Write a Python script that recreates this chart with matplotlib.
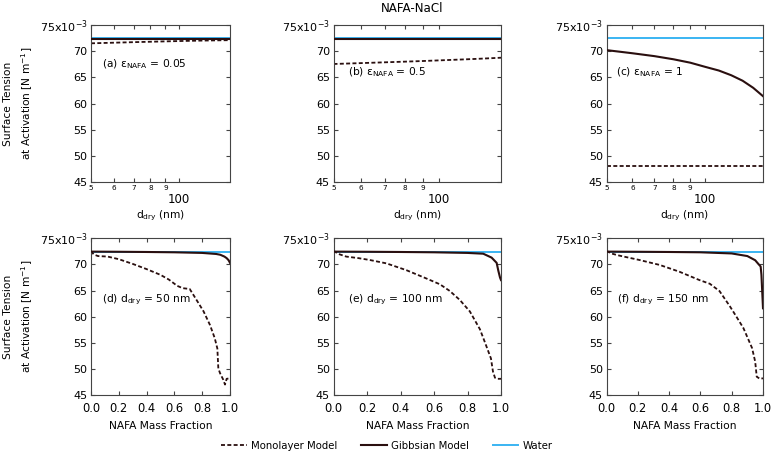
import matplotlib
matplotlib.use("Agg")
import matplotlib.pyplot as plt
from matplotlib.lines import Line2D
from matplotlib.ticker import FixedLocator, FixedFormatter

# ---------------- data (surface tension in 10^-3 N m^-1) ----------------
d_dry = [50, 60, 70, 80, 90, 100, 110, 120, 130, 140, 150]

a_mono = [71.5, 71.62, 71.72, 71.8, 71.87, 71.93, 71.98, 72.02, 72.05, 72.08, 72.1]
a_gibbs = [72.35, 72.35, 72.35, 72.35, 72.35, 72.35, 72.35, 72.35, 72.35, 72.35, 72.35]
b_mono = [67.55, 67.72, 67.87, 68.0, 68.12, 68.24, 68.35, 68.45, 68.55, 68.65, 68.75]
b_gibbs = [72.3, 72.3, 72.3, 72.3, 72.3, 72.3, 72.3, 72.3, 72.3, 72.3, 72.3]
c_mono = [48.05, 48.05, 48.05, 48.05, 48.05, 48.05, 48.05, 48.05, 48.05, 48.05, 48.05]
c_gibbs = [70.2, 69.6, 69.05, 68.45, 67.8, 67.0, 66.3, 65.4, 64.35, 63.0, 61.4]

water_sigma = 72.45

d_mono_x = [0.0, 0.02, 0.05, 0.12, 0.2, 0.3, 0.4, 0.5, 0.56, 0.62, 0.66, 0.71, 0.75,
            0.81, 0.856, 0.89, 0.909, 0.916, 0.928, 0.952, 0.964, 0.976, 1.0]
d_mono_y = [72.55, 71.9, 71.6, 71.5, 71.0, 70.1, 69.1, 68.0, 67.1, 65.9, 65.45, 65.3, 63.6,
            61.0, 58.4, 55.9, 53.9, 50.1, 49.2, 47.9, 47.0, 48.1, 48.2]
d_gibbs_x = [0.0, 0.2, 0.4, 0.6, 0.8, 0.9, 0.93, 0.96, 0.976, 0.99, 1.0]
d_gibbs_y = [72.45, 72.42, 72.38, 72.32, 72.2, 72.0, 71.85, 71.5, 71.2, 70.8, 70.3]

e_mono_x = [0.0, 0.03, 0.076, 0.15, 0.216, 0.316, 0.435, 0.555, 0.635, 0.695, 0.754,
            0.814, 0.874, 0.905, 0.94, 0.952, 0.964, 0.98, 1.0]
e_mono_y = [72.6, 72.0, 71.5, 71.2, 70.85, 70.2, 68.9, 67.3, 66.2, 64.9, 63.2,
            61.0, 57.6, 55.0, 52.0, 49.5, 48.3, 48.1, 48.1]
e_gibbs_x = [0.0, 0.2, 0.4, 0.6, 0.8, 0.894, 0.944, 0.974, 0.984, 0.994, 1.0]
e_gibbs_y = [72.45, 72.42, 72.38, 72.32, 72.2, 72.05, 71.3, 70.3, 68.8, 67.5, 67.0]

f_mono_x = [0.0, 0.03, 0.08, 0.21, 0.34, 0.466, 0.594, 0.66, 0.722, 0.788, 0.83,
            0.875, 0.93, 0.95, 0.96, 0.98, 1.0]
f_mono_y = [72.6, 72.1, 71.7, 70.85, 69.9, 68.6, 67.0, 66.3, 64.9, 62.0, 60.0,
            57.8, 54.0, 51.4, 48.5, 48.1, 48.2]
f_gibbs_x = [0.0, 0.2, 0.4, 0.6, 0.8, 0.9, 0.95, 0.97, 0.985, 0.99, 1.0]
f_gibbs_y = [72.45, 72.42, 72.38, 72.32, 72.1, 71.6, 70.8, 70.1, 69.6, 68.0, 61.6]

y_ticks = [45, 50, 55, 60, 65, 70, 75]
y_ticklabels = ["45", "50", "55", "60", "65", "70", "75x10$^{-3}$"]
logx_major = [100]
logx_major_labels = ["100"]
logx_minor = [50, 60, 70, 80, 90]
logx_minor_labels = ["5", "6", "7", "8", "9"]
frac_ticks = [0.0, 0.2, 0.4, 0.6, 0.8, 1.0]
frac_ticklabels = ["0.0", "0.2", "0.4", "0.6", "0.8", "1.0"]

top_labels = ["(a) ε$_{\\mathrm{NAFA}}$ = 0.05", "(b) ε$_{\\mathrm{NAFA}}$ = 0.5",
              "(c) ε$_{\\mathrm{NAFA}}$ = 1"]
bot_labels = ["(d) d$_{\\mathrm{dry}}$ = 50 nm", "(e) d$_{\\mathrm{dry}}$ = 100 nm",
              "(f) d$_{\\mathrm{dry}}$ = 150 nm"]

# ---------------- style ----------------
W, H = 773, 455
plt.rcParams["font.family"] = ["DejaVu Sans"]
plt.rcParams["mathtext.fontset"] = "dejavusans"
FS = 7.7      # general text
FS_TICK = 8.0
FS_LEG = 7.3
C_LINE = "#2a0f0f"
C_WATER = "#3ab4f2"
C_SPINE = "#444444"

fig = plt.figure(figsize=(W / 100, H / 100), dpi=100)


def px_axes(left, top, right, bottom):
    return fig.add_axes([left / W, 1 - bottom / H, (right - left) / W, (bottom - top) / H])


cols = [(91, 230), (333.5, 501), (606.5, 763)]
top_row = (25, 182)
bot_row = (238.3, 395)


def style_common(ax):
    for s in ax.spines.values():
        s.set_color(C_SPINE)
        s.set_linewidth(0.8)
    ax.set_ylim(45, 75)
    ax.yaxis.set_major_locator(FixedLocator(y_ticks))
    ax.yaxis.set_major_formatter(FixedFormatter(y_ticklabels))
    ax.tick_params(axis="both", which="both", direction="in", top=True, right=True,
                   length=3.2, width=0.8, color=C_SPINE, labelsize=FS_TICK)
    ax.tick_params(axis="y", pad=2.5)


top_mono = [a_mono, b_mono, c_mono]
top_gibbs = [a_gibbs, b_gibbs, c_gibbs]
label_pos_top = [(101.5, 64), (348, 72.5), (616.5, 72.5)]
for i, (l, r) in enumerate(cols):
    ax = px_axes(l, top_row[0], r, top_row[1])
    style_common(ax)
    ax.set_xscale("log")
    ax.set_xlim(50, 150)
    ax.axhline(water_sigma, color=C_WATER, lw=1.4, zorder=1)
    ax.plot(d_dry, top_gibbs[i], color=C_LINE, lw=1.5, zorder=3)
    ax.plot(d_dry, top_mono[i], color=C_LINE, lw=1.3, ls=(0, (2.2, 1.3)), zorder=2)
    ax.xaxis.set_major_locator(FixedLocator(logx_major))
    ax.xaxis.set_major_formatter(FixedFormatter(logx_major_labels))
    ax.xaxis.set_minor_locator(FixedLocator(logx_minor))
    ax.xaxis.set_minor_formatter(FixedFormatter(logx_minor_labels))
    ax.tick_params(axis="x", which="major", pad=7.6, labelsize=8.5)
    ax.tick_params(axis="x", which="minor", pad=1.8, labelsize=5.2)
    x, y = label_pos_top[i]
    fig.text(x / W, 1 - y / H, top_labels[i], fontsize=FS, ha="left", va="center")
    fig.text((l + r) / 2 / W, 1 - 216 / H, "d$_{\\mathrm{dry}}$ (nm)", fontsize=FS,
             ha="center", va="center")

bot_mono = [(d_mono_x, d_mono_y), (e_mono_x, e_mono_y), (f_mono_x, f_mono_y)]
bot_gibbs = [(d_gibbs_x, d_gibbs_y), (e_gibbs_x, e_gibbs_y), (f_gibbs_x, f_gibbs_y)]
label_pos_bot = [(101.5, 300), (348, 300), (617, 300)]
for i, (l, r) in enumerate(cols):
    ax = px_axes(l, bot_row[0], r, bot_row[1])
    style_common(ax)
    ax.set_xlim(0, 1)
    ax.axhline(water_sigma, color=C_WATER, lw=1.4, zorder=1)
    ax.plot(*bot_gibbs[i], color=C_LINE, lw=1.5, zorder=3)
    ax.plot(*bot_mono[i], color=C_LINE, lw=1.3, ls=(0, (2.2, 1.3)), zorder=2)
    ax.xaxis.set_major_locator(FixedLocator(frac_ticks))
    ax.xaxis.set_major_formatter(FixedFormatter(frac_ticklabels))
    ax.tick_params(axis="x", pad=5, labelsize=8.3)
    x, y = label_pos_bot[i]
    fig.text(x / W, 1 - y / H, bot_labels[i], fontsize=FS, ha="left", va="center")
    fig.text((l + r) / 2 / W, 1 - 426 / H, "NAFA Mass Fraction", fontsize=FS,
             ha="center", va="center")

# y labels
for yc in [(top_row[0] + top_row[1]) / 2, (bot_row[0] + bot_row[1]) / 2]:
    fig.text(8 / W, 1 - yc / H, "Surface Tension", rotation=90, fontsize=FS,
             ha="center", va="center")
    fig.text(27 / W, 1 - yc / H, "at Activation [N m$^{-1}$]", rotation=90, fontsize=FS,
             ha="center", va="center")

fig.text(412 / W, 1 - 9 / H, "NAFA-NaCl", fontsize=8.6, ha="center", va="center")

handles = [Line2D([], [], color=C_LINE, lw=1.3, ls=(0, (2.2, 1.3))),
           Line2D([], [], color=C_LINE, lw=1.5),
           Line2D([], [], color=C_WATER, lw=1.4)]
fig.legend(handles, ["Monolayer Model", "Gibbsian Model", "Water"], loc="center",
           bbox_to_anchor=(387 / W, 1 - 446 / H), ncol=3, frameon=False, fontsize=FS_LEG,
           handlelength=2.5, handletextpad=0.4, columnspacing=2.4, borderpad=0)

fig.savefig("out.png", dpi=100)
